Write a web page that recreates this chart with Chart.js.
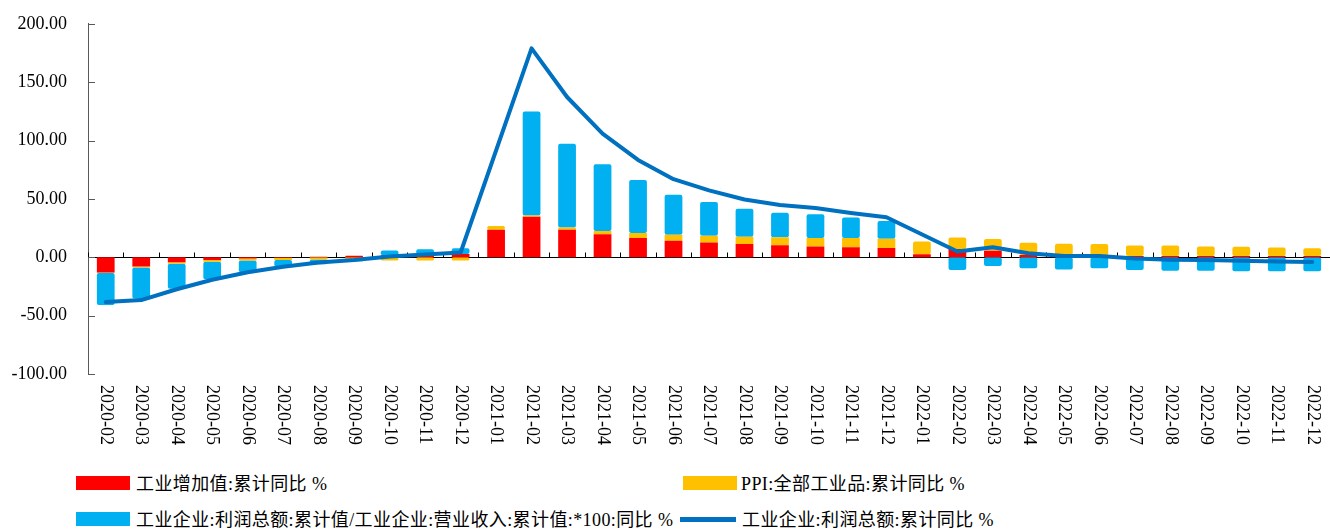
<!DOCTYPE html>
<html>
<head>
<meta charset="utf-8">
<script src="https://cdn.jsdelivr.net/npm/chart.js@4.4.0/dist/chart.umd.min.js"></script>
<style>
    body { margin: 0; background: #fff; }
    #wrap { position: relative; width: 1330px; height: 529px; }
    #chartBox { position: absolute; left: 0; top: 0; width: 1330px; height: 456px; }
    .lg { position: absolute; font: 18px "Liberation Serif", "Noto Sans CJK SC", serif; color: #000; white-space: nowrap; line-height: 20px; letter-spacing: 0.4px; }
    .lg i { position: absolute; display: block; }
</style>
</head>
<body>
<div id="wrap">
    <div id="chartBox"><canvas id="mix-chart"></canvas></div>
    <div class="lg" style="left:76px; top:474px;"><i style="left:0; top:2px; width:54px; height:14px; background:#FF0000;"></i><span style="margin-left:60px;">工业增加值:累计同比 %</span></div>
    <div class="lg" style="left:683px; top:474px;"><i style="left:0; top:2px; width:54px; height:14px; background:#FFC000;"></i><span style="margin-left:58px;">PPI:全部工业品:累计同比 %</span></div>
    <div class="lg" style="left:76px; top:510px;"><i style="left:0; top:2px; width:54px; height:14px; background:#00B0F0;"></i><span style="margin-left:60px;">工业企业:利润总额:累计值/工业企业:营业收入:累计值:*100:同比 %</span></div>
    <div class="lg" style="left:680px; top:510px;"><i style="left:0; top:7px; width:56px; height:5px; background:#0070C0;"></i><span style="margin-left:62px;">工业企业:利润总额:累计同比 %</span></div>
</div>
<script>
// months on the x axis
var months = [
    '2020-02', '2020-03', '2020-04', '2020-05', '2020-06', '2020-07', '2020-08', '2020-09', '2020-10', '2020-11', '2020-12',
    '2021-01', '2021-02', '2021-03', '2021-04', '2021-05', '2021-06', '2021-07', '2021-08', '2021-09', '2021-10', '2021-11', '2021-12',
    '2022-01', '2022-02', '2022-03', '2022-04', '2022-05', '2022-06', '2022-07', '2022-08', '2022-09', '2022-10', '2022-11', '2022-12'
];

// 工业增加值:累计同比
var valueAdded = [
    -13, -8, -4.3, -2.3, -1.0, -0.4, 0.4, 1.2, 1.8, 2.3, 2.8,
    23.5, 34.8, 23.5, 19.8, 16.4, 14.2, 12.7, 11.3, 10.2, 9.3, 8.5, 7.9,
    2.5, 7.0, 5.5, 2.0, 1.5, 1.2, 1.0, 1.0, 1.0, 1.0, 1.0, 1.0
];

// PPI:全部工业品:累计同比
var ppi = [
    -0.4, -0.8, -1.2, -1.5, -1.8, -2.0, -2.0, -2.0, -2.8, -2.8, -2.8,
    3.2, 1.0, 2.0, 2.8, 4.3, 5.1, 5.7, 6.2, 7.0, 7.1, 8.0, 8.0,
    11.0, 9.9, 10.2, 10.5, 10.1, 10.1, 9.0, 9.0, 8.3, 8.1, 7.3, 6.7
];

// 利润总额/营业收入*100 同比
var profitRatio = [
    -27.5, -26.5, -21.5, -15, -10, -5.5, -4.0, -1.5, 4.0, 4.5, 5.0,
    null, 89, 71.7, 57, 45.4, 34.3, 29, 24, 21, 20.4, 17.6, 15.1,
    null, -11, -7.5, -9.5, -10.5, -9.5, -11, -11.5, -11.5, -12, -12, -12
];

// 利润总额:累计同比
var profitGrowth = [
    -38.3, -36.7, -27.4, -19.3, -12.8, -8.1, -4.4, -2.4, 0.7, 2.4, 4.1,
    null, 178.9, 137.3, 106.0, 83.4, 66.9, 57.3, 49.5, 44.7, 42.2, 38.0, 34.3,
    null, 5.0, 8.5, 3.5, 1.0, 1.0, -1.1, -2.1, -2.3, -3.0, -3.6, -4.0
];

var labelFont = '18px "Liberation Serif", serif';

// axis line through zero, inside tick marks, and rotated month labels
var axisDecor = {
    id: 'axisDecor',
    beforeDatasetsDraw: function (chart) {
        var ctx = chart.ctx;
        var area = chart.chartArea;
        var x = chart.scales.x;
        var y = chart.scales.y;
        var y0 = Math.round(y.getPixelForValue(0)) + 0.5;
        ctx.save();
        ctx.lineWidth = 1;
        ctx.strokeStyle = '#000';
        ctx.beginPath();
        ctx.moveTo(area.left, y0);
        ctx.lineTo(area.right, y0);
        var step = (x.getPixelForValue(1) - x.getPixelForValue(0));
        for (var i = 0; i <= months.length; i++) {
            var px = Math.round(x.getPixelForValue(i) - step / 2) + 0.5;
            ctx.moveTo(px, y0);
            ctx.lineTo(px, y0 - 5);
        }
        ctx.stroke();
        ctx.strokeStyle = '#595959';
        ctx.beginPath();
        y.ticks.forEach(function (t) {
            var py = Math.round(y.getPixelForValue(t.value)) + 0.5;
            ctx.moveTo(area.left, py);
            ctx.lineTo(area.left + 7, py);
        });
        ctx.stroke();
        ctx.restore();
    },
    afterDraw: function (chart) {
        var ctx = chart.ctx;
        var x = chart.scales.x;
        var top = chart.chartArea.bottom + 11;
        ctx.save();
        ctx.font = labelFont;
        ctx.fillStyle = '#000';
        ctx.textAlign = 'left';
        ctx.textBaseline = 'middle';
        months.forEach(function (m, i) {
            ctx.save();
            ctx.translate(x.getPixelForValue(i), top);
            ctx.rotate(Math.PI / 2);
            ctx.fillText(m, 0, 0);
            ctx.restore();
        });
        ctx.restore();
    }
};

var ctx = document.getElementById('mix-chart').getContext('2d');
var mixChart = new Chart(ctx, {
    type: 'bar',
    data: {
        labels: months,
        datasets: [{
            label: '工业增加值:累计同比 %',
            data: valueAdded,
            backgroundColor: '#FF0000',
            order: 1
        }, {
            label: 'PPI:全部工业品:累计同比 %',
            data: ppi,
            backgroundColor: '#FFC000',
            order: 1
        }, {
            label: '工业企业:利润总额:累计值/工业企业:营业收入:累计值:*100:同比 %',
            data: profitRatio,
            backgroundColor: '#00B0F0',
            order: 1
        }, {
            type: 'line',
            label: '工业企业:利润总额:累计同比 %',
            data: profitGrowth,
            borderColor: '#0070C0',
            backgroundColor: '#0070C0',
            borderWidth: 4,
            pointRadius: 0,
            tension: 0,
            spanGaps: true,
            borderCapStyle: 'round',
            borderJoinStyle: 'round',
            order: 0
        }]
    },
    options: {
        responsive: true,
        maintainAspectRatio: false,
        animation: false,
        layout: { padding: { top: -2, right: 0, left: 0, bottom: 0 } },
        datasets: {
            bar: {
                categoryPercentage: 1,
                barPercentage: 0.5,
                borderRadius: 2,
                borderSkipped: false
            }
        },
        plugins: {
            legend: { display: false },
            tooltip: { enabled: false }
        },
        scales: {
            x: {
                stacked: true,
                grid: { display: false },
                border: { display: false },
                ticks: { display: false },
                afterFit: function (s) { s.height = 82; }
            },
            y: {
                stacked: true,
                min: -100,
                max: 200,
                grid: { display: false },
                border: { display: true, color: '#595959', width: 1 },
                ticks: {
                    stepSize: 50,
                    padding: 13,
                    color: '#000',
                    font: { family: '"Liberation Serif", serif', size: 18 },
                    callback: function (v) { return v.toFixed(2); }
                },
                afterFit: function (s) { s.width = 88; }
            }
        }
    },
    plugins: [axisDecor]
});
</script>
</body>
</html>
